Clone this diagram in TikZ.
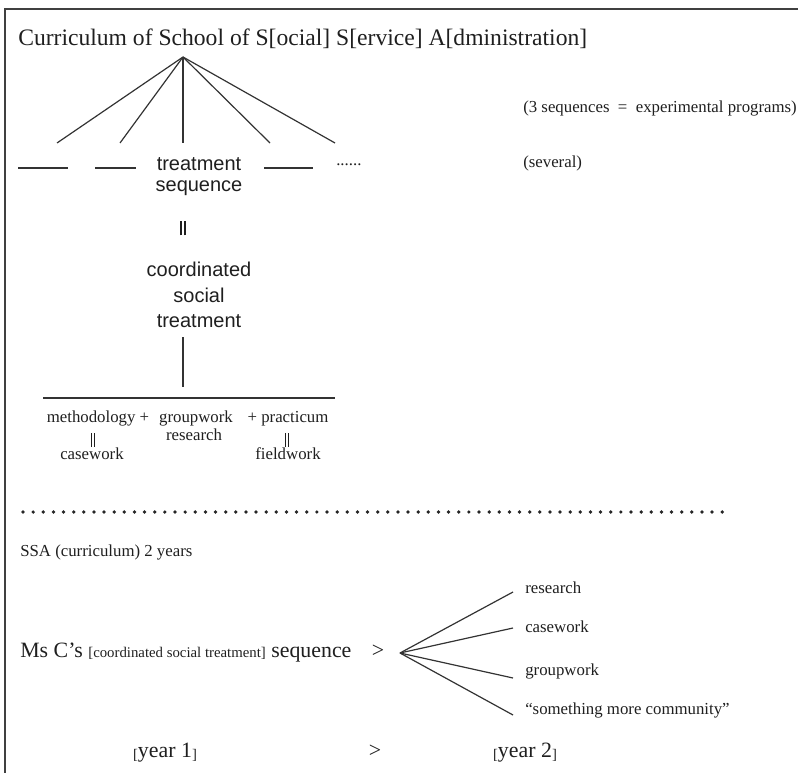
\documentclass[tikz,border=0pt]{standalone}
\usepackage{fontspec}
\setmainfont{Liberation Serif}
\setsansfont{Liberation Sans}

\begin{document}
\begin{tikzpicture}[x=0.75pt, y=-0.75pt, black!88,
  ink/.style={draw=black!80, line width=0.9pt},
  title/.style={font=\fontsize{17.7}{20}\selectfont, inner sep=0pt},
  note/.style={font=\fontsize{12.6}{15}\selectfont, inner sep=0pt},
  sans/.style={font=\sffamily\fontsize{15}{15.75}\selectfont, align=center, inner sep=0pt},
  bars/.style={inner sep=0pt, font=\fontsize{10}{10}\selectfont},
  big/.style={font=\fontsize{16.4}{18}\selectfont, inner sep=0pt},
  dotline/.style={draw=black!85, line width=2.8pt, line cap=round, dash pattern=on 0pt off 7.6pt}]
  \useasboundingbox (0,0) rectangle (798,773);

  % 边框
  \draw[black!75, line width=1.5pt] (5,773) -- (5,9) -- (798,9);

  % 标题与分支
  \node[title, anchor=base west] (cur) at (18,46) {Curriculum of School of S[ocial] S[ervice] A[dministration]};
  \coordinate (apex) at (183,57);
  \foreach \x/\n in {57/1,120/2,183/3,270/4,335/5} {
    \draw[ink] (apex) -- (\x,143) coordinate (e\n);
  }
  \foreach \a/\b in {18/68,95/136,264/313} {
    \draw[ink] (\a,168) -- (\b,168);
  }
  \node[note, anchor=base west] (more) at (336,166) {......};
  \node[note, anchor=base west] (progs) at (523,113) {(3 sequences \ = \ experimental programs)};
  \node[note, anchor=base west] (sev) at (523,168) {(several)};

  % 治疗序列
  \node[sans, anchor=north] (seq) at (199,157) {treatment\\sequence};
  \node[bars] (eq1) at (183,228) {\rule{1.4pt}{11pt}\hspace{1.3pt}\rule{1.4pt}{11pt}};
  \node[sans, font=\sffamily\fontsize{15}{19}\selectfont, anchor=north] (cst) at (199,262) {coordinated\\social\\treatment};
  \coordinate (stem) at (183,337);
  \draw[ink] (stem) -- ++(0,50);
  \coordinate (barL) at (43,398);
  \coordinate (barR) at (335,398);
  \draw[ink, line width=1.2pt] (barL) -- (barR);

  % 组成部分
  \node[note, anchor=base] (meth) at (98,422) {methodology +};
  \node[note, anchor=base] (grp) at (196,422) {groupwork};
  \node[note, anchor=base] (prac) at (288,422) {+ practicum};
  \node[note, anchor=base] (res) at (194,440) {research};
  \node[bars] (eq2) at (93,440) {\rule{1.2pt}{10pt}\hspace{1.1pt}\rule{1.2pt}{10pt}};
  \node[bars] (eq3) at (287,440) {\rule{1.2pt}{10pt}\hspace{1.1pt}\rule{1.2pt}{10pt}};
  \node[note, anchor=base] (case) at (92,459) {casework};
  \node[note, anchor=base] (field) at (288,459) {fieldwork};

  % 分隔线
  \draw[dotline] (23,512) -- (725,512);

  % 两年课程
  \node[note, anchor=base west] (ssa) at (20,556) {SSA (curriculum) 2 years};
  \node[big, anchor=base west] (msc) at (20,657) {Ms C’s {\fontsize{11.1}{12}\selectfont[coordinated social treatment]} sequence};
  \node[big, anchor=base] (gt1) at (378,657) {>};
  \coordinate (fork) at (400,653);
  \foreach \y/\n/\t/\b in {592/1/research/593, 628/2/casework/632, 678/3/groupwork/675, 715/4/{“something more community”}/714} {
    \draw[ink] (fork) -- (513,\y) coordinate (f\n);
    \node[note, anchor=base west] (r\n) at (525,\b) {\t};
  }

  % 年份
  \node[big, anchor=base] (y1) at (165,757) {\raisebox{-1.5pt}{\fontsize{11}{12}\selectfont[}year 1\raisebox{-1.5pt}{\fontsize{11}{12}\selectfont]}};
  \node[big, anchor=base] (gt2) at (375,757) {>};
  \node[big, anchor=base] (y2) at (525,757) {\raisebox{-1.5pt}{\fontsize{11}{12}\selectfont[}year 2\raisebox{-1.5pt}{\fontsize{11}{12}\selectfont]}};
\end{tikzpicture}
\end{document}
